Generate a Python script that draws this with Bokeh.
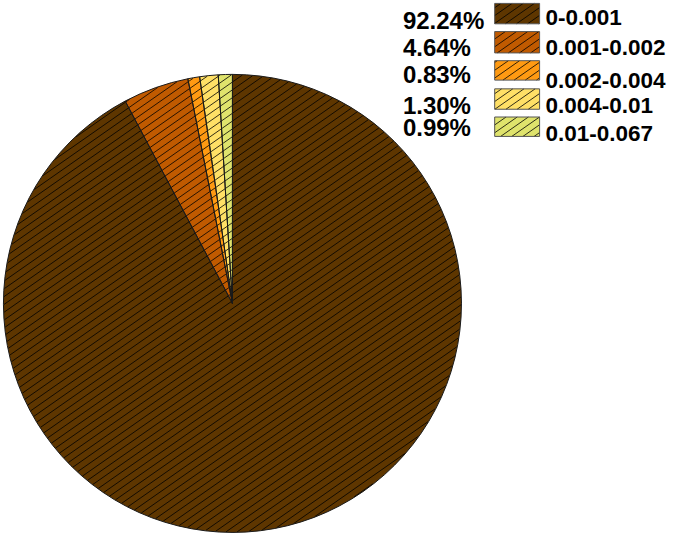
import numpy as np
from bokeh.plotting import figure
from bokeh.models import ColumnDataSource
from bokeh.core.properties import value
from bokeh.embed import file_html
from bokeh.resources import INLINE

# ---- data ----
categories = ["0-0.001", "0.001-0.002", "0.002-0.004", "0.004-0.01", "0.01-0.067"]
percents = [92.24, 4.64, 0.83, 1.30, 0.99]
pct_labels = ["92.24%", "4.64%", "0.83%", "1.30%", "0.99%"]

# ---- styles ----
colors = ["#5E3600", "#C05A00", "#FF9A12", "#FFE066", "#DFE36C"]
HATCH_ANGLE = np.deg2rad(35)   # '/' hatch, shallow
HATCH_GAP = 6.4                # perpendicular spacing (px)

W, H = 669, 533
SX, SY = W / 685.0, H / 549.0
p = figure(width=W, height=H, x_range=(0, W), y_range=(0, H),
           output_backend="svg", toolbar_location=None, min_border=0)
p.axis.visible = False
p.grid.visible = False
p.outline_line_color = None
p.background_fill_color = "white"


def fx(px):
    return px * SX


def fy(py):
    return H - py * SY


d = np.array([np.cos(HATCH_ANGLE), np.sin(HATCH_ANGLE)])
n = np.array([-np.sin(HATCH_ANGLE), np.cos(HATCH_ANGLE)])


def circle_hatch(cx, cy, r):
    c0 = n @ np.array([cx, cy])
    xs, ys = [], []
    for c in np.arange(np.ceil((c0 - r) / HATCH_GAP), np.floor((c0 + r) / HATCH_GAP) + 1) * HATCH_GAP:
        off = c - c0
        if abs(off) >= r:
            continue
        L = np.sqrt(r * r - off * off)
        p0 = np.array([cx, cy]) + off * n
        a, b = p0 - L * d, p0 + L * d
        xs.append([a[0], b[0]])
        ys.append([a[1], b[1]])
    return xs, ys


def rect_hatch(x0, x1, y0, y1):
    corners = np.array([[x0, y0], [x0, y1], [x1, y0], [x1, y1]])
    cs = corners @ n
    xs, ys = [], []
    for c in np.arange(np.ceil(cs.min() / HATCH_GAP), np.floor(cs.max() / HATCH_GAP) + 1) * HATCH_GAP:
        base = c * n
        tlo, thi = -1e9, 1e9
        for k, (lo, hi) in enumerate([(x0, x1), (y0, y1)]):
            t1 = (lo - base[k]) / d[k]
            t2 = (hi - base[k]) / d[k]
            tlo, thi = max(tlo, min(t1, t2)), min(thi, max(t1, t2))
        if thi - tlo > 0.5:
            a, b = base + tlo * d, base + thi * d
            xs.append([a[0], b[0]])
            ys.append([a[1], b[1]])
    return xs, ys


# pie
frac = np.array(percents) / np.sum(percents)
cum = np.concatenate([[0], np.cumsum(frac)])
start = np.pi / 2 - 2 * np.pi * cum[:-1]
end = np.pi / 2 - 2 * np.pi * cum[1:]
src = ColumnDataSource(dict(start=start, end=end, color=colors, cat=categories))
cx, cy, R = fx(237.5), fy(312), 234.5 * SX
p.wedge(x=cx, y=cy, radius=R, start_angle="start", end_angle="end",
        direction="clock", source=src, fill_color="color", line_color=None)
hx, hy = circle_hatch(cx, cy, R - 0.5)
p.multi_line(xs=hx, ys=hy, line_color="black", line_alpha=0.8, line_width=1)
p.wedge(x=cx, y=cy, radius=R, start_angle="start", end_angle="end",
        direction="clock", source=src, fill_color=None,
        line_color="#1a1a1a", line_width=1)

# legend (manual)
box_rows = [(3, 24), (32, 54), (62, 82), (91, 112), (120, 140)]
pct_base = [21, 48, 76, 108, 131]
lab_base = [18, 48, 82, 108, 137]
bx0, bx1 = 506, 552
leg = ColumnDataSource(dict(
    x=[fx((bx0 + bx1) / 2)] * 5,
    y=[fy((a + b) / 2) for a, b in box_rows],
    h=[(b - a) * SY for a, b in box_rows],
    color=colors))
p.rect(x="x", y="y", width=(bx1 - bx0) * SX, height="h", source=leg,
       fill_color="color", line_color=None)
lx, ly = [], []
for a, b in box_rows:
    xs_, ys_ = rect_hatch(fx(bx0), fx(bx1), fy(b), fy(a))
    lx += xs_
    ly += ys_
p.multi_line(xs=lx, ys=ly, line_color="black", line_alpha=0.8, line_width=1)
p.rect(x="x", y="y", width=(bx1 - bx0) * SX, height="h", source=leg,
       fill_color=None, line_color="#555555", line_width=1)

p.text(x=[fx(412)] * 5, y=[fy(b) for b in pct_base], text=pct_labels,
       text_font=value("Liberation Sans"), text_font_style="bold",
       text_font_size="24px", text_color="black",
       text_baseline="alphabetic", text_align="left")
p.text(x=[fx(558)] * 5, y=[fy(b) for b in lab_base], text=categories,
       text_font=value("Liberation Sans"), text_font_style="bold",
       text_font_size="22.5px", text_color="black",
       text_baseline="alphabetic", text_align="left")

open("out.html", "w").write(file_html(p, INLINE))
